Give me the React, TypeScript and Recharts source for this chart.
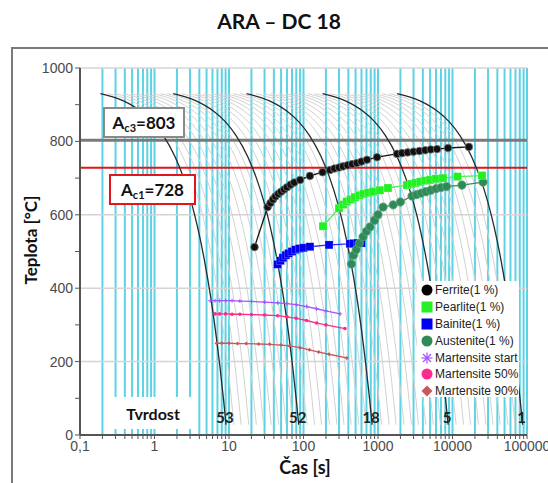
import React from "react";
import {
  ComposedChart,
  Line,
  XAxis,
  YAxis,
  CartesianGrid,
  ReferenceLine,
  ReferenceDot,
} from "recharts";

// time axis (s), log scale
const decades = [0.1, 1, 10, 100, 1000, 10000];
const minorSteps = [1, 2, 3, 4, 5, 6, 7, 8, 9];
const xTicks = [
  ...decades.flatMap((d) => minorSteps.map((m) => +(m * d).toPrecision(6))),
  100000,
];
const xDecadeLabels: Record<string, string> = {
  "0.1": "0,1",
  "1": "1",
  "10": "10",
  "100": "100",
  "1000": "1000",
  "10000": "10000",
  "100000": "100000",
};

const yTicks = [0, 100, 200, 300, 400, 500, 600, 700, 800, 900, 1000];
const yLabelled = [0, 200, 400, 600, 800, 1000];
const yGridLines = [200, 400, 600, 1000];

const ac3 = 803;
const ac1 = 728;

// shape of one cooling curve: [fraction of end time, temperature]
const coolShape: [number, number][] = [
  [0.02, 930], [0.04, 911], [0.07, 882], [0.1, 854], [0.14, 816],
  [0.2, 759], [0.26, 702], [0.33, 636], [0.4, 569], [0.5, 474],
  [0.6, 380], [0.7, 285], [0.8, 190], [0.9, 95], [0.97, 28],
];

// end times of the highlighted cooling curves and their hardness
const blackEnds = [9.4, 89, 860, 9000, 90000];
const hardness = ["53", "52", "18", "5", "1"];

// end times of the light grey cooling curves
const greyEnds = [
  12, 15, 19, 24, 30, 38, 48, 60, 74,
  115, 145, 180, 230, 290, 360, 450, 570, 710,
  1150, 1450, 1800, 2300, 2900, 3600, 4500, 5700, 7100,
  11500, 14500, 18000, 23000, 29000, 36000, 45000, 57000, 71000,
];

// transformation start points [t (s), T (°C)]
const ferrite: [number, number][] = [
  [22, 512], [33, 621], [36, 632], [39, 642], [42, 650], [46, 657], [50, 663],
  [55, 669], [60, 675], [67, 682], [75, 688], [90, 695], [122, 706], [180, 716],
  [227, 722], [260, 726], [300, 729], [340, 732], [390, 735], [450, 738],
  [520, 741], [600, 745], [711, 750], [970, 757], [1800, 766], [2100, 768],
  [2500, 770], [3000, 772], [3600, 774], [4300, 776], [5100, 778], [6200, 779],
  [8700, 782], [16600, 785],
];
const pearlite: [number, number][] = [
  [183, 569], [300, 618], [340, 628], [380, 636], [430, 642], [490, 648],
  [560, 653], [640, 657], [740, 660], [860, 663], [1060, 667], [1360, 673],
  [2450, 681], [2800, 684], [3200, 687], [3700, 690], [4300, 693], [5000, 695],
  [6000, 698], [7450, 700], [11700, 704], [24900, 707],
];
const bainite: [number, number][] = [
  [45, 465], [49, 475], [53, 483], [58, 490], [63, 495], [70, 500], [78, 505],
  [88, 508], [100, 510], [122, 513], [220, 518], [420, 521], [470, 522],
  [530, 523], [600, 523],
];
const austenite: [number, number][] = [
  [440, 466], [470, 490], [510, 505], [560, 522], [630, 540], [700, 555],
  [780, 567], [900, 585], [1000, 600], [1170, 621], [1600, 627], [2000, 635],
  [2860, 651], [3300, 655], [3800, 659], [4400, 663], [5100, 667], [6000, 671],
  [7000, 674], [8300, 677], [13400, 681], [25700, 689],
];
const msStart: [number, number][] = [
  [5.6, 366], [6.5, 366], [7.5, 366], [9, 366], [11, 366], [14, 365], [20, 364],
  [30, 362], [45, 360], [60, 358], [80, 355], [110, 350], [150, 344],
  [200, 338], [310, 330],
];
const ms50: [number, number][] = [
  [6.5, 330], [7.5, 330], [9, 330], [11, 329], [14, 329], [20, 328], [30, 327],
  [45, 325], [60, 322], [80, 318], [110, 312], [150, 305], [200, 300],
  [360, 290],
];
const ms90: [number, number][] = [
  [6.8, 250], [8, 250], [10, 250], [13, 249], [17, 249], [25, 248], [35, 247],
  [50, 245], [65, 243], [90, 238], [120, 232], [160, 226], [220, 220],
  [380, 210],
];

const toRows = (pts: [number, number][]) => pts.map(([t, T]) => ({ t, T }));
const curveRows = (te: number) => coolShape.map(([f, T]) => ({ t: +(f * te).toPrecision(6), T }));

const C = {
  cyan: "#5cd3e5",
  grey: "#d2d2d2",
  ferrite: "#000000",
  pearlite: "#22f022",
  bainite: "#0000f0",
  austenite: "#2e8b57",
  ms: "#a552ff",
  m50: "#ff2a8c",
  m90: "#c8585a",
};

const circleDot = (fill: string, r: number, stroke = "none") => (p: any) => (
  <circle key={`c${p.index}`} cx={p.cx} cy={p.cy} r={r} fill={fill} stroke={stroke} strokeWidth={0.8} />
);
const squareDot = (fill: string, s: number) => (p: any) => (
  <rect key={`s${p.index}`} x={p.cx - s / 2} y={p.cy - s / 2} width={s} height={s} fill={fill} stroke="#ffffff" strokeOpacity={0.35} strokeWidth={0.6} />
);
const diamondDot = (fill: string, s: number) => (p: any) => (
  <path key={`d${p.index}`} d={`M${p.cx},${p.cy - s} L${p.cx + s},${p.cy} L${p.cx},${p.cy + s} L${p.cx - s},${p.cy} Z`} fill={fill} />
);
const starDot = (stroke: string, s: number) => (p: any) => (
  <g key={`a${p.index}`} stroke={stroke} strokeWidth={1}>
    <line x1={p.cx - s} y1={p.cy} x2={p.cx + s} y2={p.cy} />
    <line x1={p.cx} y1={p.cy - s} x2={p.cx} y2={p.cy + s} />
  </g>
);

const legendItems = [
  { label: "Ferrite(1 %)", color: C.ferrite, shape: "circle" },
  { label: "Pearlite(1 %)", color: C.pearlite, shape: "square" },
  { label: "Bainite(1 %)", color: C.bainite, shape: "square" },
  { label: "Austenite(1 %)", color: C.austenite, shape: "circle" },
  { label: "Martensite start", color: C.ms, shape: "star" },
  { label: "Martensite 50%", color: C.m50, shape: "circle" },
  { label: "Martensite 90%", color: C.m90, shape: "diamond" },
];

function LegendIcon({ shape, color }: { shape: string; color: string }) {
  return (
    <svg width={12} height={12} style={{ flex: "none" }}>
      {shape === "circle" && <circle cx={6} cy={6} r={5.5} fill={color} />}
      {shape === "square" && <rect x={0.5} y={0.5} width={11} height={11} fill={color} />}
      {shape === "diamond" && <path d="M6,0.5 L11.5,6 L6,11.5 L0.5,6 Z" fill={color} />}
      {shape === "star" && (
        <g stroke={color} strokeWidth={1.2}>
          <line x1={0.5} y1={6} x2={11.5} y2={6} />
          <line x1={6} y1={0.5} x2={6} y2={11.5} />
          <line x1={2} y1={2} x2={10} y2={10} />
          <line x1={10} y1={2} x2={2} y2={10} />
        </g>
      )}
    </svg>
  );
}

const boldFont = "Lato, 'Open Sans', sans-serif";
const tickFont = "'Liberation Sans', Arial, sans-serif";

export default function App() {
  return (
    <div style={{ position: "fixed", left: 0, top: 0, width: 548, height: 483, overflow: "hidden", background: "#fff" }}>
      <div style={{ position: "absolute", left: 0, top: 8, width: 558, textAlign: "center", fontFamily: boldFont, fontWeight: 700, fontSize: 21, color: "#111" }}>
        ARA – DC 18
      </div>
      <div style={{ position: "absolute", left: 11, top: 47, width: 600, height: 500, border: "2px solid #7a7a7a" }} />

      <div style={{ position: "absolute", left: 0, top: 0 }}>
        <ComposedChart width={548} height={483} margin={{ top: 68, right: 21, bottom: 18, left: 20 }}>
          <CartesianGrid horizontal={false} stroke={C.cyan} strokeWidth={2} />
          <XAxis
            dataKey="t"
            type="number"
            scale="log"
            domain={[0.1, 100000]}
            allowDataOverflow
            ticks={xTicks}
            interval={0}
            height={30}
            tickFormatter={(v: number) => xDecadeLabels[String(v)] ?? ""}
            tick={{ fill: "#4a4a4a", fontSize: 14, fontFamily: tickFont }}
            tickSize={4}
            stroke="#555"
            axisLine={{ stroke: "#555", strokeWidth: 2 }}
          />
          <YAxis
            dataKey="T"
            type="number"
            domain={[0, 1000]}
            ticks={yTicks}
            interval={0}
            width={60}
            tickFormatter={(v: number) => (yLabelled.includes(v) ? String(v) : "")}
            tick={{ fill: "#4a4a4a", fontSize: 14, fontFamily: tickFont }}
            tickSize={5}
            stroke="#555"
            axisLine={{ stroke: "#555", strokeWidth: 2 }}
          />
          {yGridLines.map((y) => (
            <ReferenceLine key={`g${y}`} y={y} stroke="#d4d4d4" strokeWidth={1.5} />
          ))}

          {greyEnds.map((te) => (
            <Line key={`grey${te}`} data={curveRows(te)} dataKey="T" type="monotone" stroke={C.grey} strokeWidth={1} dot={false} isAnimationActive={false} />
          ))}

          <ReferenceLine y={ac3} stroke="#7a7a7a" strokeWidth={3} />
          <ReferenceLine y={ac1} stroke="#e3141c" strokeWidth={2} />

          {blackEnds.map((te) => (
            <Line key={`black${te}`} data={curveRows(te)} dataKey="T" type="monotone" stroke="#2a2a2a" strokeWidth={1.3} dot={false} isAnimationActive={false} />
          ))}

          <Line data={toRows(ms90)} dataKey="T" stroke={C.m90} strokeWidth={1.3} dot={diamondDot(C.m90, 2)} isAnimationActive={false} />
          <Line data={toRows(ms50)} dataKey="T" stroke={C.m50} strokeWidth={1.3} dot={circleDot(C.m50, 1.8)} isAnimationActive={false} />
          <Line data={toRows(msStart)} dataKey="T" stroke={C.ms} strokeWidth={1.3} dot={starDot(C.ms, 2)} isAnimationActive={false} />
          <Line data={toRows(bainite)} dataKey="T" stroke="#2a2aff" strokeWidth={1.3} dot={squareDot(C.bainite, 8)} isAnimationActive={false} />
          <Line data={toRows(austenite)} dataKey="T" stroke={C.austenite} strokeWidth={1.3} dot={circleDot(C.austenite, 4.2, "#6aa385")} isAnimationActive={false} />
          <Line data={toRows(pearlite)} dataKey="T" stroke="#4cf04c" strokeWidth={1.3} dot={squareDot(C.pearlite, 8)} isAnimationActive={false} />
          <Line data={toRows(ferrite)} dataKey="T" stroke="#111" strokeWidth={1.3} dot={circleDot("#111", 3.8, "#777")} isAnimationActive={false} />

          {blackEnds.map((te, i) => (
            <ReferenceDot
              key={`h${te}`}
              x={te * 0.94}
              y={46}
              r={0}
              fill="none"
              stroke="none"
              label={{ value: hardness[i], position: "center", fill: "#222", fontSize: 15, fontWeight: 700, fontFamily: boldFont }}
            />
          ))}
        </ComposedChart>
      </div>

      {/* annotation boxes */}
      <div style={{ position: "absolute", left: 103, top: 107, width: 78, height: 27, background: "#fff", border: "2px solid #8a8a8a", fontFamily: boldFont, fontWeight: 700, fontSize: 17, color: "#111", display: "flex", alignItems: "center", justifyContent: "center" }}>
        <span>A<sub style={{ fontSize: 11, verticalAlign: "-3px" }}>c3</sub>=803</span>
      </div>
      <div style={{ position: "absolute", left: 109, top: 174, width: 83, height: 27, background: "#fff", border: "2px solid #e3141c", fontFamily: boldFont, fontWeight: 700, fontSize: 17, color: "#111", display: "flex", alignItems: "center", justifyContent: "center" }}>
        <span>A<sub style={{ fontSize: 11, verticalAlign: "-3px" }}>c1</sub>=728</span>
      </div>
      <div style={{ position: "absolute", left: 108, top: 397, width: 90, height: 32, background: "#fff", fontFamily: boldFont, fontWeight: 700, fontSize: 16, color: "#111", display: "flex", alignItems: "center", justifyContent: "center" }}>
        Tvrdost
      </div>

      {/* legend */}
      <div style={{ position: "absolute", left: 417, top: 281, width: 102, height: 116, background: "#fff", padding: "1px 0 0 4px", boxSizing: "border-box", fontFamily: tickFont, fontSize: 12, color: "#222" }}>
        {legendItems.map((it) => (
          <div key={it.label} style={{ display: "flex", alignItems: "center", height: 16.8, gap: 2, whiteSpace: "nowrap" }}>
            <LegendIcon shape={it.shape} color={it.color} />
            <span>{it.label}</span>
          </div>
        ))}
      </div>

      {/* axis titles */}
      <div style={{ position: "absolute", left: 240, top: 456, width: 130, textAlign: "center", fontFamily: boldFont, fontWeight: 700, fontSize: 18, color: "#111" }}>
        Čas [s]
      </div>
      <div style={{ position: "absolute", left: 30, top: 240, transform: "translate(-50%, -50%) rotate(-90deg)", whiteSpace: "nowrap", fontFamily: boldFont, fontWeight: 700, fontSize: 17, color: "#111" }}>
        Teplota [°C]
      </div>
    </div>
  );
}
